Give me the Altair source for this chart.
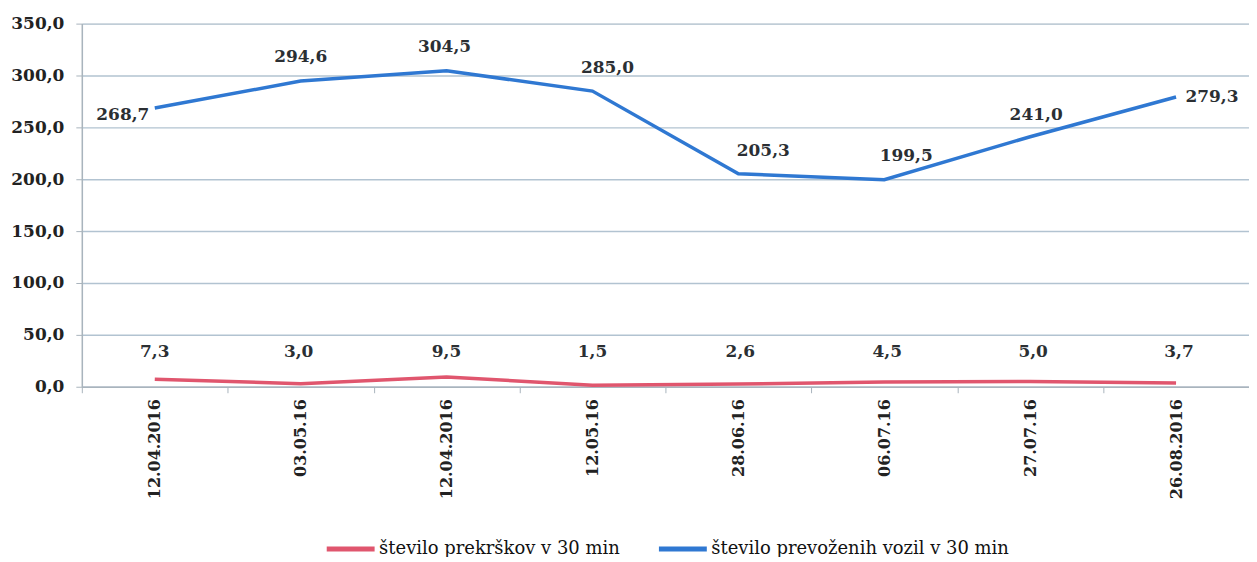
import altair as alt
import pandas as pd

dates = ["12.04.2016", "03.05.16", "12.04.2016", "12.05.16", "28.06.16", "06.07.16", "27.07.16", "26.08.2016"]
prekrski = [7.3, 3.0, 9.5, 1.5, 2.6, 4.5, 5.0, 3.7]
vozila = [268.7, 294.6, 304.5, 285.0, 205.3, 199.5, 241.0, 279.3]
series_names = ["število prekrškov v 30  min", "število prevoženih vozil v 30  min"]
colors = ["#e0566e", "#2f78d2"]

# label placement (pixels), style only
blue_dx = [-32, 0, -2, 15, 25, 22, 6, 36]
blue_dy = [7, -24, -24, -23, -23, -24, -22, 0]
red_dx = [0, -2, 0, 0, 2, 3, 3, 3]
red_dy = [-27, -32, -25, -33, -32, -30, -30, -31]

rows = []
for i in range(len(dates)):
    rows.append({"i": i, "serija": series_names[0], "v": prekrski[i]})
for i in range(len(dates)):
    rows.append({"i": i, "serija": series_names[1], "v": vozila[i]})
df = pd.DataFrame(rows)
df["lab"] = df["v"].map(lambda x: f"{x:.1f}".replace(".", ","))

label_arr = "[" + ",".join("'" + d + "'" for d in dates) + "]"

FONT = "DejaVu Serif"

x = alt.X("i:O", title=None,
          axis=alt.Axis(labelExpr=f"{label_arr}[datum.value]", labelAngle=270,
                        labelFont=FONT, labelFontSize=16, labelColor="#222222",
                        labelFontWeight="bold", labelPadding=6,
                        tickBand="extent", tickSize=6, tickColor="#a9b4bd",
                        domainColor="#a9b4bd", domainWidth=1.5, grid=False))
y = alt.Y("v:Q", title=None,
          scale=alt.Scale(domain=[0, 350]),
          axis=alt.Axis(values=[0, 50, 100, 150, 200, 250, 300, 350],
                        labelExpr="replace(format(datum.value, '.1f'), '.', ',')",
                        labelFont=FONT, labelFontSize=17, labelFontWeight="bold",
                        labelColor="#222222", labelPadding=12,
                        tickSize=6, tickColor="#a9b4bd",
                        domainColor="#a9b4bd", domainWidth=1.5,
                        gridColor="#b2c3d1", gridWidth=1.5))

color = alt.Color("serija:N",
                  scale=alt.Scale(domain=series_names, range=colors),
                  legend=alt.Legend(title=None, orient="none", legendX=243, legendY=500,
                                    direction="horizontal", columns=2, columnPadding=22,
                                    symbolType="stroke", symbolStrokeWidth=5, symbolSize=2304,
                                    labelFont=FONT, labelFontSize=18, labelColor="#111111",
                                    labelOffset=2, labelLimit=500))

lines = alt.Chart(df).mark_line(strokeWidth=3.5).encode(x=x, y=y, color=color)

layers = [lines]
for s_idx, (dxs, dys) in enumerate([(red_dx, red_dy), (blue_dx, blue_dy)]):
    for i in range(len(dates)):
        t = alt.Chart(df).transform_filter(
            (alt.datum.i == i) & (alt.datum.serija == series_names[s_idx])
        ).mark_text(font=FONT, fontSize=17, fontWeight="bold", color="#2b2f33",
                    align="center", baseline="middle", dx=dxs[i], dy=dys[i]).encode(
            x=x, y=y, text="lab:N")
        layers.append(t)

chart = alt.layer(*layers).properties(
    width=1170, height=364,
    autosize=alt.AutoSizeParams(type="none"),
    padding={"left": 74, "top": 15, "right": 0, "bottom": 170},
).configure_view(fill="#edf6fb", stroke=None).configure(background="white")

chart.save("out.html", embed_options={"renderer": "svg", "actions": False})
